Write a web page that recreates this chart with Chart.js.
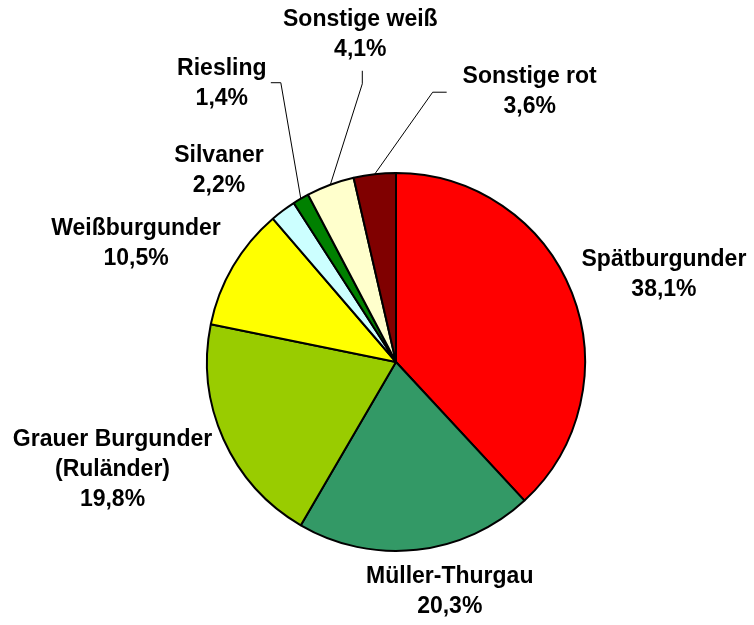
<!DOCTYPE html>
<html>
<head>
<meta charset="utf-8">
<script src="https://cdn.jsdelivr.net/npm/chart.js@4"></script>
<style>
  html, body { margin: 0; padding: 0; background: #fff; }
  #wrap { width: 754px; height: 625px; }
</style>
</head>
<body>
<div id="wrap"><canvas id="grafico_pie"></canvas></div>
<script>
// Rebsorten - Anteil an der Rebfläche
var sorten = ['Spätburgunder', 'Müller-Thurgau', 'Grauer Burgunder\n(Ruländer)', 'Weißburgunder', 'Silvaner', 'Riesling', 'Sonstige weiß', 'Sonstige rot'];
var anteile = [38.1, 20.3, 19.8, 10.5, 2.2, 1.4, 4.1, 3.6];
var farben = ['#FF0000', '#339966', '#99CC00', '#FFFF00', '#CCFFFF', '#008000', '#FFFFCC', '#800000'];

// label offsets from slice edge point, plus optional leader line (relative to label centre)
var labelPos = [
  { dx: 92, dy: -18 },
  { dx: 33, dy: 42 },
  { dx: -111, dy: 30 },
  { dx: -97, dy: -23 },
  { dx: -64, dy: -40 },
  { dx: -79, dy: -115, leader: [[59, -1], [49, -1]] },
  { dx: 30, dy: -150, leader: [[2, 49], [2, 36]] },
  { dx: 155, dy: -83, leader: [[-97, 1], [-83, 1]] }
];

var pieLabels = {
  id: 'pieLabels',
  afterDatasetsDraw: function(chart) {
    var ctx = chart.ctx;
    var meta = chart.getDatasetMeta(0);
    ctx.save();
    ctx.font = 'bold 23px "Liberation Sans", Arial, sans-serif';
    ctx.fillStyle = '#000';
    ctx.textAlign = 'center';
    ctx.textBaseline = 'middle';
    meta.data.forEach(function(arc, i) {
      var mid = (arc.startAngle + arc.endAngle) / 2;
      var ex = arc.x + Math.cos(mid) * arc.outerRadius;
      var ey = arc.y + Math.sin(mid) * arc.outerRadius;
      var p = labelPos[i];
      var cx = ex + p.dx, cy = ey + p.dy;
      var lines = sorten[i].split('\n');
      lines.push(anteile[i].toFixed(1).replace('.', ',') + '%');
      var lh = 30;
      var y0 = cy - (lines.length - 1) * lh / 2;
      lines.forEach(function(t, k) { ctx.fillText(t, cx, y0 + k * lh); });
      if (p.leader) {
        ctx.beginPath();
        ctx.strokeStyle = '#000';
        ctx.lineWidth = 1;
        ctx.moveTo(ex, ey);
        p.leader.forEach(function(q) { ctx.lineTo(cx + q[0], cy + q[1]); });
        ctx.stroke();
      }
    });
    ctx.restore();
  }
};

var ctx = document.getElementById('grafico_pie').getContext('2d');
var pieChart = new Chart(ctx, {
  type: 'pie',
  data: {
    labels: sorten,
    datasets: [{
      data: anteile,
      backgroundColor: farben,
      borderColor: '#000',
      borderWidth: 2
    }]
  },
  options: {
    responsive: true,
    maintainAspectRatio: false,
    animation: false,
    layout: { padding: { left: 206, right: 168, top: 172, bottom: 73 } },
    plugins: {
      legend: { display: false },
      tooltip: { enabled: false }
    }
  },
  plugins: [pieLabels]
});
</script>
</body>
</html>
